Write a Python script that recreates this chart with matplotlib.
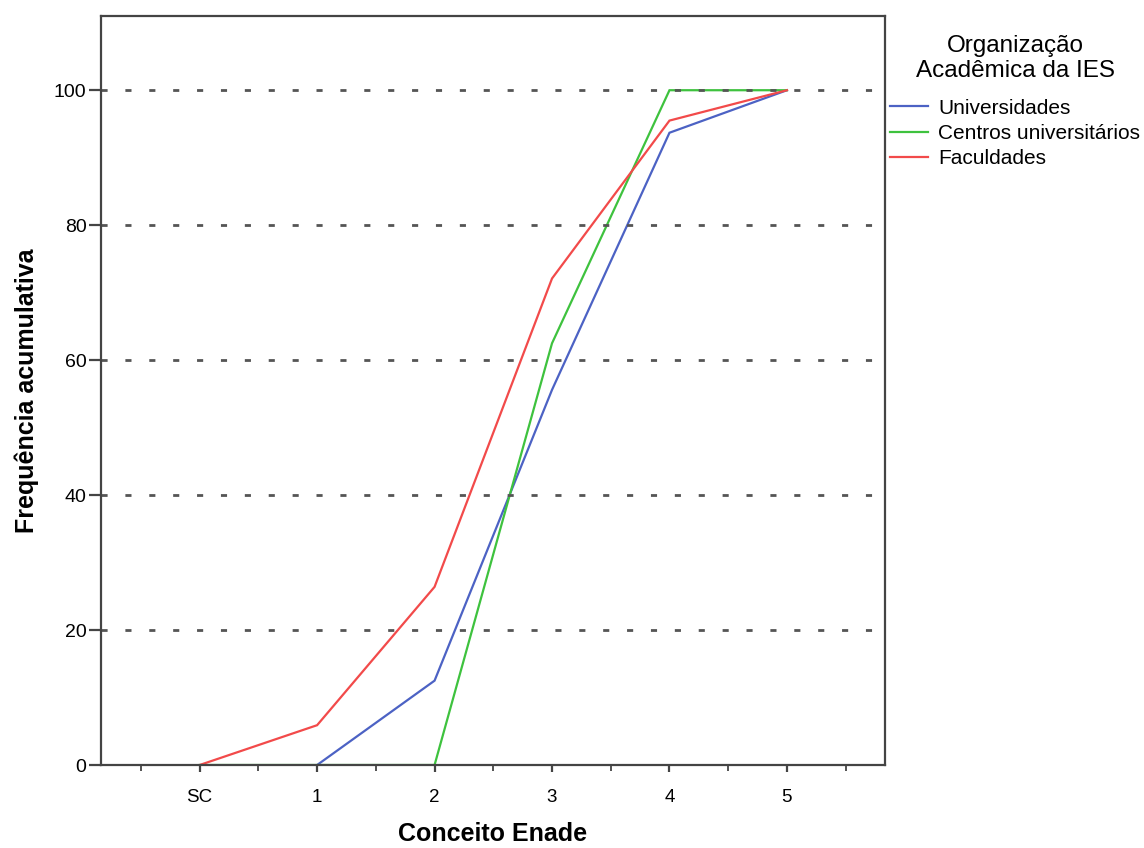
import matplotlib
matplotlib.use("Agg")
import matplotlib.pyplot as plt
from matplotlib.ticker import FixedLocator

plt.rcParams['font.family'] = ['Liberation Sans', 'DejaVu Sans']

categories = ["SC", "1", "2", "3", "4", "5"]
series_names = ["Universidades", "Centros universitários", "Faculdades"]
# None = no value for that category
universidades = [None, 0.0, 12.5, 55.6, 93.7, 100.0]
centros = [0.0, 0.0, 0.0, 62.5, 100.0, 100.0]
faculdades = [0.0, 5.9, 26.4, 72.1, 95.5, 100.0]
y_ticks = [0, 20, 40, 60, 80, 100]

colors = ["#4C62C4", "#3EC23E", "#F24A4A"]

fig = plt.figure(figsize=(11.44, 8.48), dpi=100)
ax = fig.add_axes([101/1144, 1 - 765/848, (885-101)/1144, (765-16)/848])

for vals, name, col in zip([universidades, centros, faculdades], series_names, colors):
    xs = [i for i, v in enumerate(vals) if v is not None]
    ys = [v for v in vals if v is not None]
    ax.plot(xs, ys, color=col, lw=1.6, label=name, zorder=2, solid_joinstyle='miter')

for yv in y_ticks:
    ax.axhline(yv, color="#555555", lw=2.0, dashes=(2.2, 6.4), zorder=3)

ax.set_xlim(-0.84, 5.835)
ax.set_ylim(0, 111)
ax.set_xticks(range(len(categories)))
ax.set_xticklabels(categories)
ax.xaxis.set_minor_locator(FixedLocator([i - 0.5 for i in range(len(categories) + 1)]))
ax.set_yticks(y_ticks)

for s in ax.spines.values():
    s.set_color("#444444")
    s.set_linewidth(1.6)
    s.set_zorder(4)

ax.tick_params(axis='x', which='major', length=5, width=1.6, color="#444444",
               labelsize=13.5, pad=12)
ax.tick_params(axis='x', which='minor', length=4, width=1.3, color="#444444")
ax.tick_params(axis='y', which='major', length=9, width=1.6, color="#444444",
               labelsize=14, pad=1.5)

ax.set_xlabel("Conceito Enade", fontsize=18, fontweight='bold', labelpad=12)
ax.set_ylabel("Frequência acumulativa", fontsize=18, fontweight='bold', labelpad=11)

leg = fig.legend(loc='upper left', bbox_to_anchor=(882/1144, 1 - 27/848),
                 title="Organização\nAcadêmica da IES", frameon=False,
                 fontsize=15, title_fontsize=17.5, handlelength=1.8,
                 handletextpad=0.5, labelspacing=0.3, borderaxespad=0,
                 alignment='center')
leg.get_title().set_linespacing(1.15)
leg.get_title().set_multialignment('center')
leg._legend_box.sep = 12

fig.savefig("out.png", dpi=100)
